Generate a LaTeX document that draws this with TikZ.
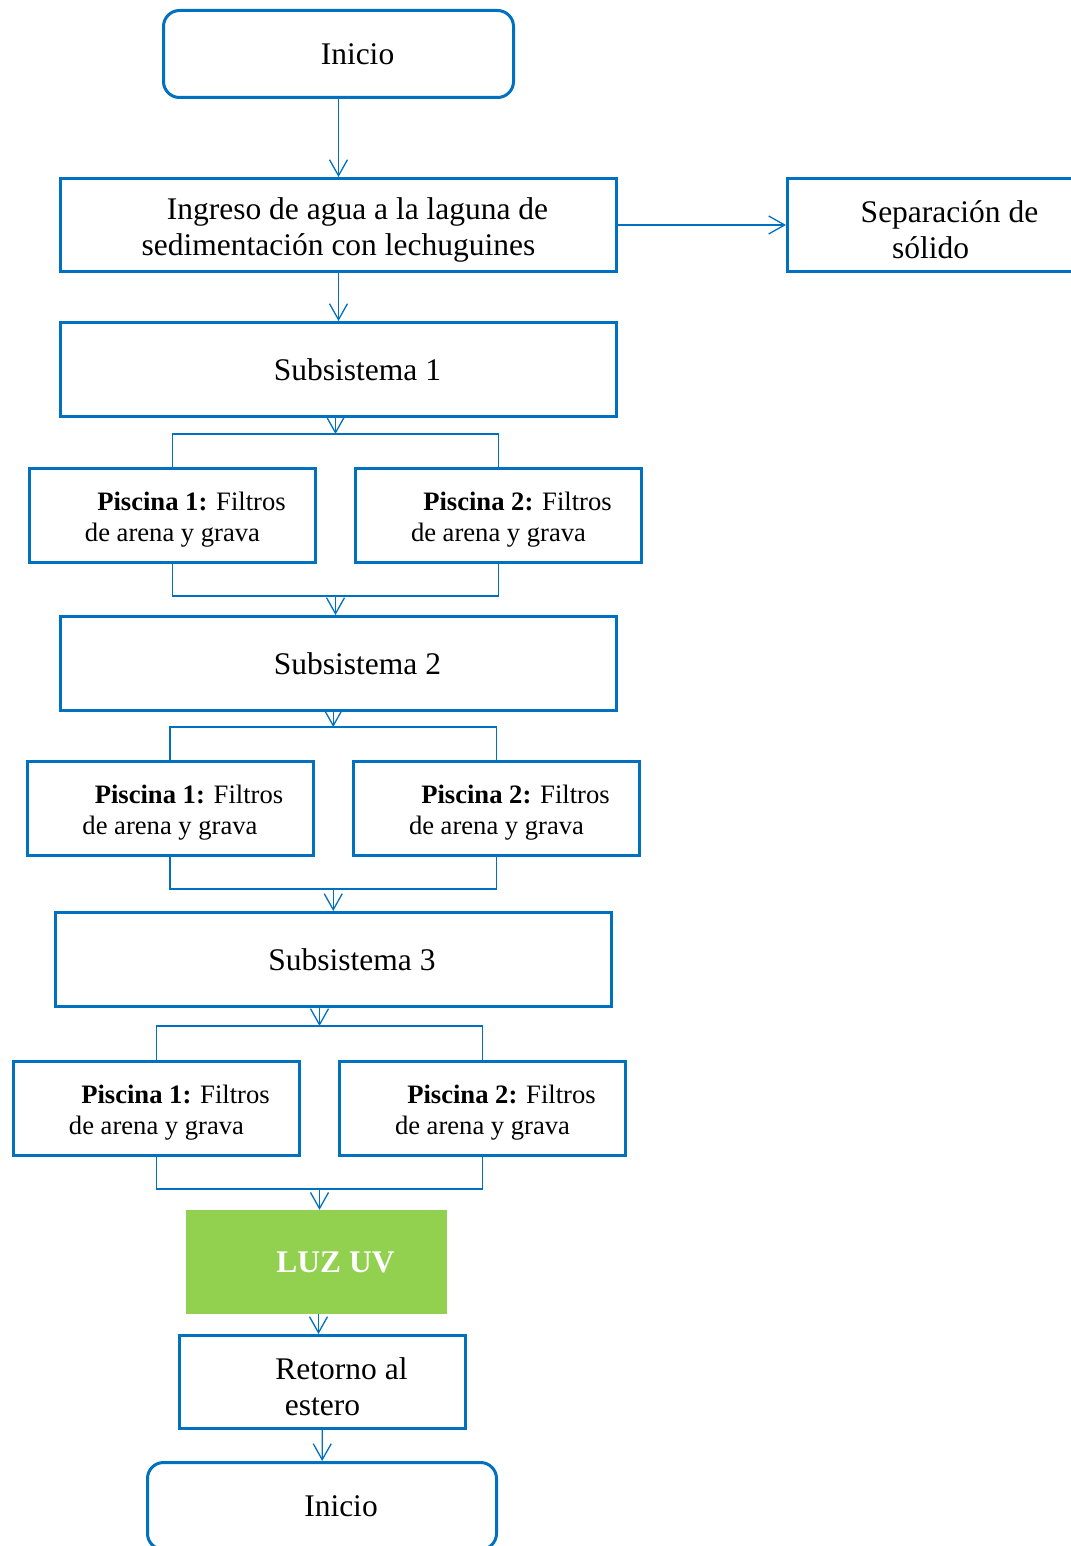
\documentclass[tikz,border=0pt]{standalone}
\usepackage{fontspec}
\setmainfont{Liberation Serif}
\usetikzlibrary{arrows.meta,calc}
\definecolor{bl}{HTML}{0070C0}
\definecolor{uvgreen}{HTML}{92D050}
\newcommand{\firstind}{\rule{0pt}{1em}\hspace*{38pt}}
\begin{document}
\begin{tikzpicture}[x=1pt,y=-1pt,
  box/.style={draw=bl, line width=3pt, rectangle, align=center, inner sep=0pt,
    font=\fontsize{31.5}{36.5}\selectfont},
  bigbox/.style={box, minimum width=556, minimum height=93},
  pbox/.style={box, minimum width=286, minimum height=94,
    font=\fontsize{26.6}{31}\selectfont},
  term/.style={box, rounded corners=16pt, minimum width=350, minimum height=87},
  conn/.style={draw=bl, line width=1.3pt},
  arr/.style={conn, -{Straight Barb[length=16pt,width=18pt]}},
]
\useasboundingbox (0,0) rectangle (1070,1546);

% nodes
\node[term] (ini) at (338.5,54) {\hspace*{38pt}Inicio};
\node[bigbox] (ing) at (338.5,225) {\firstind Ingreso de agua a la laguna de\\sedimentación con lechuguines};
\node[box, minimum width=286, minimum height=93] (sep) at (930.5,225) {\firstind Separación de\\sólido};
\node[bigbox, minimum height=94] (sub1) at (338.5,369.5) {\hspace*{38pt}Subsistema 1};
\node[pbox] (p11) at (172.5,515.5) {\firstind\textbf{Piscina 1:} Filtros\\de arena y grava};
\node[pbox] (p12) at (498.5,515.5) {\firstind\textbf{Piscina 2:} Filtros\\de arena y grava};
\node[bigbox, minimum height=94] (sub2) at (338.5,663.5) {\hspace*{38pt}Subsistema 2};
\node[pbox] (p21) at (170,808.5) {\firstind\textbf{Piscina 1:} Filtros\\de arena y grava};
\node[pbox] (p22) at (496.5,808.5) {\firstind\textbf{Piscina 2:} Filtros\\de arena y grava};
\node[bigbox, minimum height=94] (sub3) at (333,959.5) {\hspace*{38pt}Subsistema 3};
\node[pbox] (p31) at (156.5,1108.5) {\firstind\textbf{Piscina 1:} Filtros\\de arena y grava};
\node[pbox] (p32) at (482.5,1108.5) {\firstind\textbf{Piscina 2:} Filtros\\de arena y grava};
\node[rectangle, fill=uvgreen, minimum width=261, minimum height=104, inner sep=0pt,
  text=white, font=\fontsize{31.5}{36.5}\selectfont\bfseries] (luz) at (316.5,1262) {\hspace*{38pt}LUZ UV};
\node[box, minimum width=286, minimum height=93] (ret) at (322.5,1382) {\firstind Retorno al\\estero};
\node[term, minimum width=349] (fin) at (322,1506) {\hspace*{38pt}Inicio};

% branch / merge coordinates
\coordinate (b1) at ($(p11.north)!0.5!(p12.north)$);
\coordinate (b1) at (b1 |- 0,434);
\coordinate (m1) at (b1 |- 0,596);
\coordinate (b2) at ($(p21.north)!0.5!(p22.north)$);
\coordinate (b2) at (b2 |- 0,727);
\coordinate (m2) at (b2 |- 0,889);
\coordinate (b3) at ($(p31.north)!0.5!(p32.north)$);
\coordinate (b3) at (b3 |- 0,1026);
\coordinate (m3) at (b3 |- 0,1189);

% connectors
\draw[arr] (ini) -- (ing);
\draw[arr] (ing) -- (sep);
\draw[arr] (ing) -- (sub1);

\draw[arr] (sub1.south -| b1) -- (b1);
\draw[conn] (p11.north) -- (p11.north |- b1) -- (p12.north |- b1) -- (p12.north);
\draw[conn] (p11.south) -- (p11.south |- m1) -- (p12.south |- m1) -- (p12.south);
\draw[arr] (m1) -- (m1 |- sub2.north);

\draw[arr] (sub2.south -| b2) -- (b2);
\draw[conn] (p21.north) -- (p21.north |- b2) -- (p22.north |- b2) -- (p22.north);
\draw[conn] (p21.south) -- (p21.south |- m2) -- (p22.south |- m2) -- (p22.south);
\draw[arr] (m2) -- (m2 |- sub3.north);

\draw[arr] (sub3.south -| b3) -- (b3);
\draw[conn] (p31.north) -- (p31.north |- b3) -- (p32.north |- b3) -- (p32.north);
\draw[conn] (p31.south) -- (p31.south |- m3) -- (p32.south |- m3) -- (p32.south);
\draw[arr] (m3) -- (m3 |- luz.north);

\draw[arr] ($(luz.south)+(2,0)$) -- ($(luz.south |- ret.north)+(2,0)$);
\draw[arr] (ret) -- (fin);
\end{tikzpicture}
\end{document}
